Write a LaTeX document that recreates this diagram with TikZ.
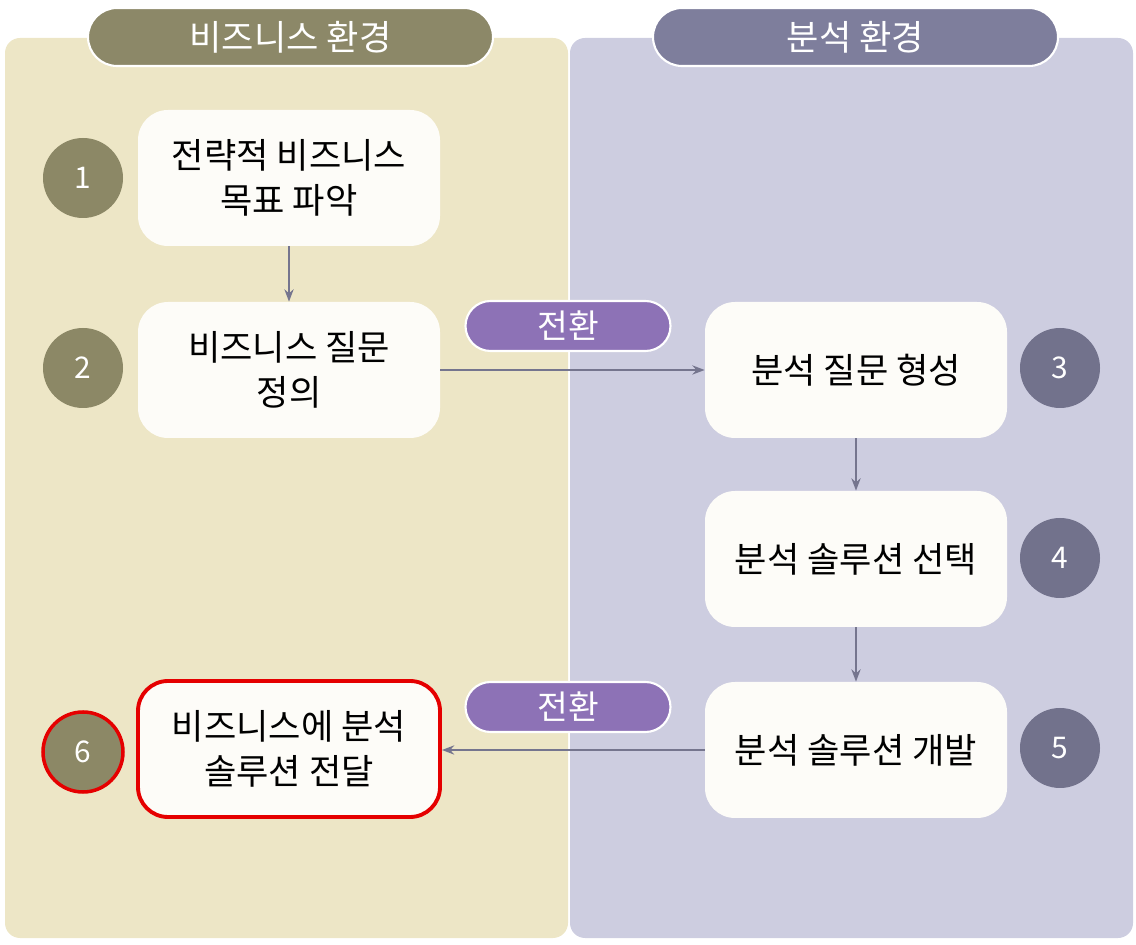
\documentclass[tikz,border=0pt]{standalone}
\usepackage{fontspec}
\setmainfont{Noto Sans CJK KR}
\usetikzlibrary{positioning,arrows.meta}
\definecolor{bizbg}{HTML}{EDE6C6}
\definecolor{anabg}{HTML}{CDCDE0}
\definecolor{bizhd}{HTML}{8C8868}
\definecolor{anahd}{HTML}{7E7E9C}
\definecolor{bizdot}{HTML}{8C8866}
\definecolor{anadot}{HTML}{72728C}
\definecolor{switch}{HTML}{8D72B6}
\definecolor{linec}{HTML}{75758E}
\definecolor{card}{HTML}{FDFCF8}
\tikzset{
  stage/.style={draw=none,fill=card,rounded corners=0.6cm,minimum width=6.04cm,minimum height=2.72cm,align=center,font=\fontsize{20}{26}\selectfont},
  head/.style={draw=white,line width=1.2pt,rounded corners=0.58cm,minimum width=8.1cm,minimum height=1.16cm,text=white,font=\fontsize{20}{24}\selectfont},
  num/.style={circle,minimum size=1.6cm,text=white,font=\fontsize{17}{20}\selectfont},
  turn/.style={fill=switch,draw=white,line width=1.2pt,rounded corners=0.5cm,minimum width=4.1cm,minimum height=1cm,text=white,font=\fontsize{19}{22}\selectfont},
  flow/.style={-{Stealth[length=7pt]},draw=linec,line width=1.5pt}
}
\begin{document}
\begin{tikzpicture}
\useasboundingbox (0,0) rectangle (22.72,18.88);
% panels
\fill[bizbg,rounded corners=0.3cm] (0.1,0.12) rectangle (11.36,18.12);
\fill[anabg,rounded corners=0.3cm] (11.4,0.12) rectangle (22.66,18.12);
\node[head,fill=bizhd] (hbiz) at (5.81,18.14) {비즈니스 환경};
\node[head,fill=anahd] (hana) at (17.11,18.14) {분석 환경};
% steps
\node[stage] (s1) at (5.78,15.32) {전략적 비즈니스\\목표 파악};
\node[stage] (s2) at (5.78,11.48) {비즈니스 질문\\정의};
\node[stage] (s3) at (17.12,11.48) {분석 질문 형성};
\node[stage] (s4) at (17.12,7.7) {분석 솔루션 선택};
\node[stage] (s5) at (17.12,3.88) {분석 솔루션 개발};
\node[stage,draw=red!90!black,line width=2.2pt] (s6) at (5.78,3.9) {비즈니스에 분석\\솔루션 전달};
% numbers
\node[num,fill=bizdot] (n1) at (1.66,15.32) {1};
\node[num,fill=bizdot] (n2) at (1.66,11.52) {2};
\node[num,fill=anadot] (n3) at (21.2,11.52) {3};
\node[num,fill=anadot] (n4) at (21.2,7.72) {4};
\node[num,fill=anadot] (n5) at (21.2,3.92) {5};
\node[num,fill=bizdot,draw=red!90!black,line width=2pt] (n6) at (1.66,3.84) {6};
% connectors
\draw[flow] (s1) -- (s2);
\draw[flow] (s2.east |- 0,11.48) -- (s3.west |- 0,11.48);
\draw[flow] (s3) -- (s4);
\draw[flow] (s4) -- (s5);
\draw[flow] (s5.west |- 0,3.88) -- (s6.east |- 0,3.88);
\node[turn] (t1) at (11.36,12.36) {전환};
\node[turn] (t2) at (11.36,4.74) {전환};
\end{tikzpicture}
\end{document}
